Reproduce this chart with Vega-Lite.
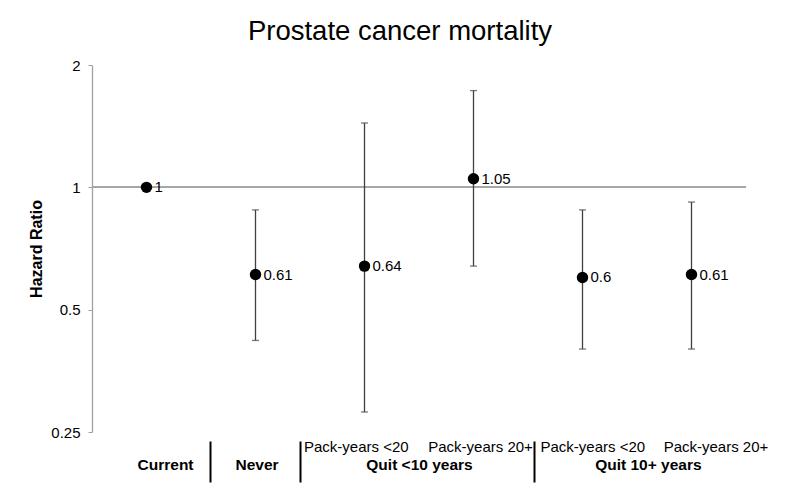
{
  "$schema": "https://vega.github.io/schema/vega-lite/v6.json",
  "autosize": {"type": "none"},
  "padding": {"left": 92, "top": 65, "right": 54, "bottom": 66},
  "width": 654,
  "height": 367,
  "background": "white",
  "title": {
    "text": "Prostate cancer mortality",
    "fontSize": 27.5,
    "fontWeight": "normal",
    "font": "Liberation Sans",
    "color": "black",
    "anchor": "middle",
    "dx": -19,
    "offset": 13
  },
  "config": {
    "font": "Liberation Sans",
    "view": {"stroke": null},
    "axis": {"grid": false}
  },
  "data": {
    "values": [
      {"group": "Current", "sub": "", "pos": 0.5, "hr": 1, "lo": null, "hi": null, "label": "1"},
      {"group": "Never", "sub": "", "pos": 1.5, "hr": 0.61, "lo": 0.42, "hi": 0.88, "label": "0.61"},
      {"group": "Quit <10 years", "sub": "Pack-years <20", "pos": 2.5, "hr": 0.64, "lo": 0.28, "hi": 1.44, "label": "0.64"},
      {"group": "Quit <10 years", "sub": "Pack-years 20+", "pos": 3.5, "hr": 1.05, "lo": 0.64, "hi": 1.73, "label": "1.05"},
      {"group": "Quit 10+ years", "sub": "Pack-years <20", "pos": 4.5, "hr": 0.6, "lo": 0.4, "hi": 0.88, "label": "0.6"},
      {"group": "Quit 10+ years", "sub": "Pack-years 20+", "pos": 5.5, "hr": 0.61, "lo": 0.4, "hi": 0.92, "label": "0.61"}
    ]
  },
  "resolve": {"axis": {"x": "independent"}},
  "layer": [
    {
      "mark": {"type": "rule", "color": "#a6a6a6", "strokeWidth": 1.5},
      "encoding": {
        "y": {"datum": 1, "type": "quantitative",
          "scale": {"type": "log", "base": 2, "domain": [0.25, 2], "nice": false},
          "axis": {"title": "Hazard Ratio", "values": [0.25, 0.5, 1, 2], "labelExpr": "datum.value + ''",
            "domainColor": "#a0a0a0", "domainWidth": 1.3, "tickColor": "#a0a0a0", "tickSize": 4,
            "labelFontSize": 15, "labelColor": "black", "labelPadding": 8,
            "titleFontSize": 16, "titleFontWeight": "bold", "titleColor": "black", "titlePadding": 6}}
      }
    },
    {
      "mark": {"type": "rule", "color": "#404040", "strokeWidth": 1.3},
      "encoding": {
        "x": {"field": "pos", "type": "quantitative", "scale": {"domain": [0, 6], "nice": false, "zero": false},
          "axis": {"orient": "bottom", "title": null, "domain": false, "ticks": false,
            "values": [2.42, 3.56, 4.59, 5.72],
            "labelExpr": "datum.value == 2.42 || datum.value == 4.59 ? 'Pack-years <20' : 'Pack-years 20+'",
            "labelFontSize": 15, "labelColor": "black", "labelPadding": 7, "labelFlush": false, "labelOverlap": false}},
        "y": {"field": "lo", "type": "quantitative",
          "scale": {"type": "log", "base": 2, "domain": [0.25, 2], "nice": false},
          "axis": {"title": "Hazard Ratio"}},
        "y2": {"field": "hi"}
      }
    },
    {
      "mark": {"type": "tick", "orient": "horizontal", "color": "#404040", "size": 7, "thickness": 1.3},
      "encoding": {
        "x": {"field": "pos", "type": "quantitative", "scale": {"domain": [0, 6], "nice": false, "zero": false}, "axis": null},
        "y": {"field": "lo", "type": "quantitative",
          "scale": {"type": "log", "base": 2, "domain": [0.25, 2], "nice": false},
          "axis": {"title": "Hazard Ratio"}}
      }
    },
    {
      "mark": {"type": "tick", "orient": "horizontal", "color": "#404040", "size": 7, "thickness": 1.3},
      "encoding": {
        "x": {"field": "pos", "type": "quantitative", "scale": {"domain": [0, 6], "nice": false, "zero": false}, "axis": null},
        "y": {"field": "hi", "type": "quantitative",
          "scale": {"type": "log", "base": 2, "domain": [0.25, 2], "nice": false},
          "axis": {"title": "Hazard Ratio"}}
      }
    },
    {
      "mark": {"type": "point", "filled": true, "color": "black", "opacity": 1, "size": 130},
      "encoding": {
        "x": {"field": "pos", "type": "quantitative", "scale": {"domain": [0, 6], "nice": false, "zero": false},
          "axis": {"orient": "bottom", "title": null, "domain": false, "ticks": false,
            "values": [0.67, 1.51, 3.0, 5.1],
            "labelExpr": "datum.value == 0.67 ? 'Current' : datum.value == 1.51 ? 'Never' : datum.value == 3 ? 'Quit <10 years' : 'Quit 10+ years'",
            "labelFontSize": 15.5, "labelFontWeight": "bold", "labelColor": "black", "labelPadding": 25, "labelFlush": false, "labelOverlap": false}},
        "y": {"field": "hr", "type": "quantitative",
          "scale": {"type": "log", "base": 2, "domain": [0.25, 2], "nice": false},
          "axis": {"title": "Hazard Ratio"}}
      }
    },
    {
      "mark": {"type": "text", "align": "left", "baseline": "middle", "dx": 8, "fontSize": 15, "color": "black"},
      "encoding": {
        "x": {"field": "pos", "type": "quantitative", "scale": {"domain": [0, 6], "nice": false, "zero": false},
          "axis": {"orient": "bottom", "title": null, "domain": false, "labels": false,
            "values": [1.083, 1.908, 4.055], "tickSize": 41, "tickWidth": 2, "tickColor": "black", "offset": 9}},
        "y": {"field": "hr", "type": "quantitative",
          "scale": {"type": "log", "base": 2, "domain": [0.25, 2], "nice": false},
          "axis": {"title": "Hazard Ratio"}},
        "text": {"field": "label", "type": "nominal"}
      }
    }
  ]
}
